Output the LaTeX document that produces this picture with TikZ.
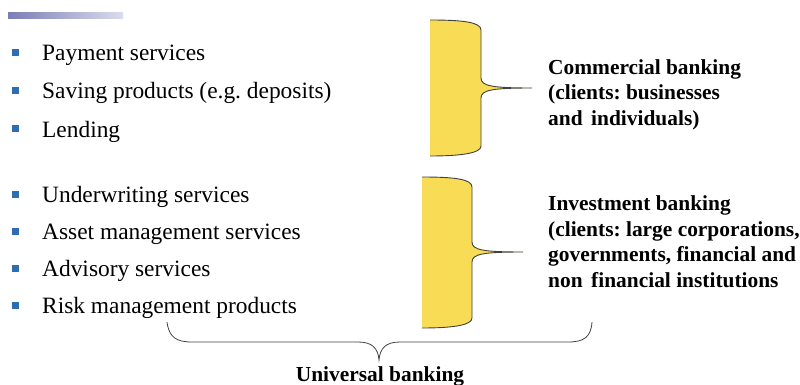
\documentclass[tikz,border=0pt]{standalone}
\usepackage{fontspec}
\setmainfont{Liberation Serif}
\frenchspacing
\definecolor{bulletblue}{HTML}{2E6DB4}
\definecolor{braceyellow}{HTML}{F8DC55}
\definecolor{braceline}{HTML}{404040}
\definecolor{barleft}{HTML}{7C7DB6}
\definecolor{barright}{HTML}{DCDCEE}
\tikzset{
  itemtext/.style={anchor=base west, inner sep=0pt, font=\fontsize{23.4}{26}\selectfont},
  bulletsq/.style={fill=bulletblue, minimum size=7pt, inner sep=0pt},
  grouplabel/.style={anchor=base west, inner sep=0pt, align=left,
    font=\fontsize{21.4}{25.4}\selectfont\bfseries},
  bracefill/.style={fill=braceyellow},
  braceedge/.style={draw=braceline, line width=0.9pt},
}
\begin{document}
\begin{tikzpicture}[x=1pt,y=-1pt]
\useasboundingbox (0,0) rectangle (800,385);

% title bar
\shade[left color=barleft, right color=barright] (8,13) rectangle (123,19);

% bullet list
\foreach \y/\t [count=\i] in {53/Payment services, 91/Saving products (e.g. deposits), 129/Lending,
  194/Underwriting services, 231/Asset management services, 268/Advisory services,
  305/Risk management products} {
  \node[bulletsq] (b\i) at (15,\y) {};
  \node[itemtext] (t\i) at (42,\y+8) {\t};
}

% commercial brace
\fill[bracefill] (430,20) .. controls (462,20) and (481,22) .. (481,30) -- (481,78)
  .. controls (481,86) and (492,88) .. (532,88)
  .. controls (492,88) and (481,90) .. (481,98) -- (481,146)
  .. controls (481,153) and (462,156) .. (430,156) -- cycle;
\draw[braceedge] (430,20) .. controls (462,20) and (481,22) .. (481,30) -- (481,78)
  .. controls (481,86) and (492,88) .. (532,88)
  .. controls (492,88) and (481,90) .. (481,98) -- (481,146)
  .. controls (481,153) and (462,156) .. (430,156);

% investment brace
\fill[bracefill] (422,177) .. controls (454,177) and (472,179) .. (472,187) -- (472,242)
  .. controls (472,250) and (483,252) .. (523,252)
  .. controls (483,252) and (472,254) .. (472,262) -- (472,318)
  .. controls (472,325) and (454,328) .. (422,328) -- cycle;
\draw[braceedge] (422,177) .. controls (454,177) and (472,179) .. (472,187) -- (472,242)
  .. controls (472,250) and (483,252) .. (523,252)
  .. controls (483,252) and (472,254) .. (472,262) -- (472,318)
  .. controls (472,325) and (454,328) .. (422,328);

% group labels (anchored at the baseline of their last line)
\node[grouplabel] (com) at (548,125) {Commercial banking\\(clients: businesses\\and\hspace{0.4em}individuals)};
\node[grouplabel] (inv) at (548,287) {Investment banking\\(clients: large corporations,\\governments, financial and\\non\hspace{0.4em}financial institutions};

% universal brace
\draw[draw=braceline, line width=0.8pt] (167,322) .. controls (169,337) and (176,342) .. (192,342)
  -- (358,342) .. controls (372,342) and (378,348) .. (379,360)
  .. controls (380,348) and (386,342) .. (400,342) -- (568,342)
  .. controls (584,342) and (591,337) .. (592,322);
\node[grouplabel, anchor=base] (uni) at (380,381) {Universal banking};
\end{tikzpicture}
\end{document}
